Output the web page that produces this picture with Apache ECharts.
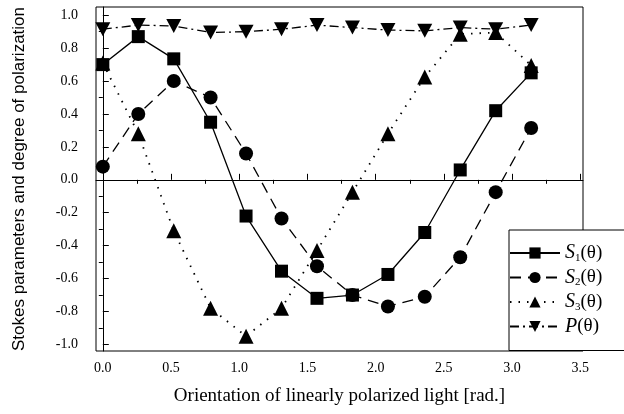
<!DOCTYPE html>
<html>
<head>
<meta charset="utf-8">
<script src="https://cdn.jsdelivr.net/npm/echarts@6/dist/echarts.min.js"></script>
<style>
    html, body { margin: 0; padding: 0; background: #fff; }
    #chart { width: 624px; height: 414px; }
</style>
</head>
<body>
<div id="chart"></div>
<script>
'use strict';

// orientation of the polarized light [rad.]
var theta = [0, 0.26, 0.52, 0.79, 1.05, 1.31, 1.57, 1.83, 2.09, 2.36, 2.62, 2.88, 3.14];

// Stokes parameters and degree of polarization
var s1 = [0.70, 0.87, 0.735, 0.35, -0.22, -0.555, -0.72, -0.70, -0.575, -0.32, 0.06, 0.42, 0.65];
var s2 = [0.08, 0.40, 0.60, 0.50, 0.16, -0.235, -0.525, -0.70, -0.77, -0.71, -0.47, -0.075, 0.315];
var s3 = [0.71, 0.28, -0.31, -0.78, -0.95, -0.78, -0.43, -0.075, 0.28, 0.625, 0.885, 0.895, 0.695];
var pol = [0.915, 0.94, 0.935, 0.895, 0.90, 0.915, 0.94, 0.925, 0.91, 0.905, 0.925, 0.915, 0.94];

var xTicks = [0, 0.5, 1.0, 1.5, 2.0, 2.5, 3.0, 3.5];
var xMinorTicks = [0.25, 0.75, 1.25, 1.75, 2.25, 2.75, 3.25];
var yTicks = [-1.0, -0.8, -0.6, -0.4, -0.2, 0, 0.2, 0.4, 0.6, 0.8, 1.0];
var yMinorTicks = [-0.9, -0.7, -0.5, -0.3, -0.1, 0.1, 0.3, 0.5, 0.7, 0.9];

var serif = 'Liberation Serif, Times New Roman, serif';

function pairs(xs, ys) {
    return xs.map(function (x, i) { return [x, ys[i]]; });
}

function extend(dst) {
    for (var i = 1; i < arguments.length; i++) {
        var src = arguments[i];
        for (var k in src) {
            if (Object.prototype.hasOwnProperty.call(src, k)) { dst[k] = src[k]; }
        }
    }
    return dst;
}

var chart = echarts.init(document.getElementById('chart'));

var baseX = { type: 'value', min: -0.05, max: 3.52, splitLine: { show: false } };
var baseY = { type: 'value', min: -1.04, max: 1.05, splitLine: { show: false } };

var options = {
    backgroundColor: '#fff',
    animation: false,
    grid: {
        left: 96, top: 7, right: 41, bottom: 63,
        show: true, borderColor: '#000', borderWidth: 1
    },
    xAxis: [
        extend({}, baseX, {
            name: 'Orientation of linearly polarized light [rad.]',
            nameLocation: 'middle',
            nameGap: 36,
            nameTextStyle: { fontFamily: serif, fontSize: 19, color: '#000' },
            axisLine: { lineStyle: { color: '#000', width: 1 } },
            axisTick: { inside: true, length: 6, customValues: xTicks, lineStyle: { color: '#000' } },
            axisLabel: {
                customValues: xTicks, margin: 10, color: '#000', fontFamily: serif, fontSize: 14,
                formatter: function (v) { return v.toFixed(1); }
            }
        }),
        extend({}, baseX, {
            axisLine: { show: false },
            axisTick: { inside: true, length: 4, customValues: xMinorTicks, lineStyle: { color: '#000' } },
            axisLabel: { show: false }
        })
    ],
    yAxis: [
        extend({}, baseY, {
            name: 'Stokes parameters and degree of polarization',
            nameLocation: 'middle',
            nameGap: 68,
            nameTextStyle: { fontFamily: 'Liberation Sans, Arial, sans-serif', fontSize: 17, color: '#000' },
            axisLine: { lineStyle: { color: '#000', width: 1 } },
            axisTick: { inside: true, length: 6, customValues: yTicks, lineStyle: { color: '#000' } },
            axisLabel: {
                customValues: yTicks, margin: 18, color: '#000', fontFamily: serif, fontSize: 14,
                formatter: function (v) { return v.toFixed(1); }
            }
        }),
        extend({}, baseY, {
            axisLine: { show: false },
            axisTick: { inside: true, length: 4, customValues: yMinorTicks, lineStyle: { color: '#000' } },
            axisLabel: { show: false }
        })
    ],
    legend: {
        orient: 'vertical',
        left: 509,
        top: 230,
        width: 130,
        padding: [13, 40, 14, 0],
        backgroundColor: '#fff',
        borderColor: '#000',
        borderWidth: 1,
        borderRadius: 0,
        itemWidth: 50,
        itemHeight: 14,
        itemGap: 4,
        textStyle: {
            color: '#000',
            fontFamily: serif,
            fontSize: 19,
            rich: {
                s: { fontFamily: serif, fontStyle: 'italic', fontSize: 20, color: '#000' },
                sub: { fontFamily: serif, fontSize: 11, color: '#000', padding: [10, 0, 0, 0] },
                p: { fontFamily: serif, fontSize: 19, color: '#000' }
            }
        },
        formatter: function (name) {
            if (name === 'P') {
                return '{s|P}{p|(θ)}';
            }
            return '{s|S}{sub|' + name.slice(1) + '}{p|(θ)}';
        },
        data: ['S1', 'S2', 'S3', 'P']
    },
    series: [
        {
            name: 'S1', type: 'line', data: pairs(theta, s1),
            symbol: 'rect', symbolSize: 13,
            lineStyle: { color: '#000', width: 1.3, type: 'solid' },
            itemStyle: { color: '#000' },
            z: 4,
            markLine: {
                silent: true, symbol: 'none', label: { show: false },
                lineStyle: { color: '#000', width: 1, type: 'solid' },
                data: [{ yAxis: 0 }]
            }
        },
        {
            name: 'S2', type: 'line', data: pairs(theta, s2),
            symbol: 'circle', symbolSize: 14,
            lineStyle: { color: '#000', width: 1.3, type: [11, 7] },
            itemStyle: { color: '#000' },
            z: 3
        },
        {
            name: 'S3', type: 'line', data: pairs(theta, s3),
            symbol: 'triangle', symbolSize: 15,
            lineStyle: { color: '#000', width: 1.8, type: [1.5, 7] },
            itemStyle: { color: '#000' },
            z: 2
        },
        {
            name: 'P', type: 'line', data: pairs(theta, pol),
            symbol: 'path://M0,0 L10,0 L5,9 Z', symbolSize: [15, 14],
            lineStyle: { color: '#000', width: 1.3, type: [9, 4, 2, 4] },
            itemStyle: { color: '#000' },
            z: 5
        }
    ]
};

chart.setOption(options);
</script>
</body>
</html>
